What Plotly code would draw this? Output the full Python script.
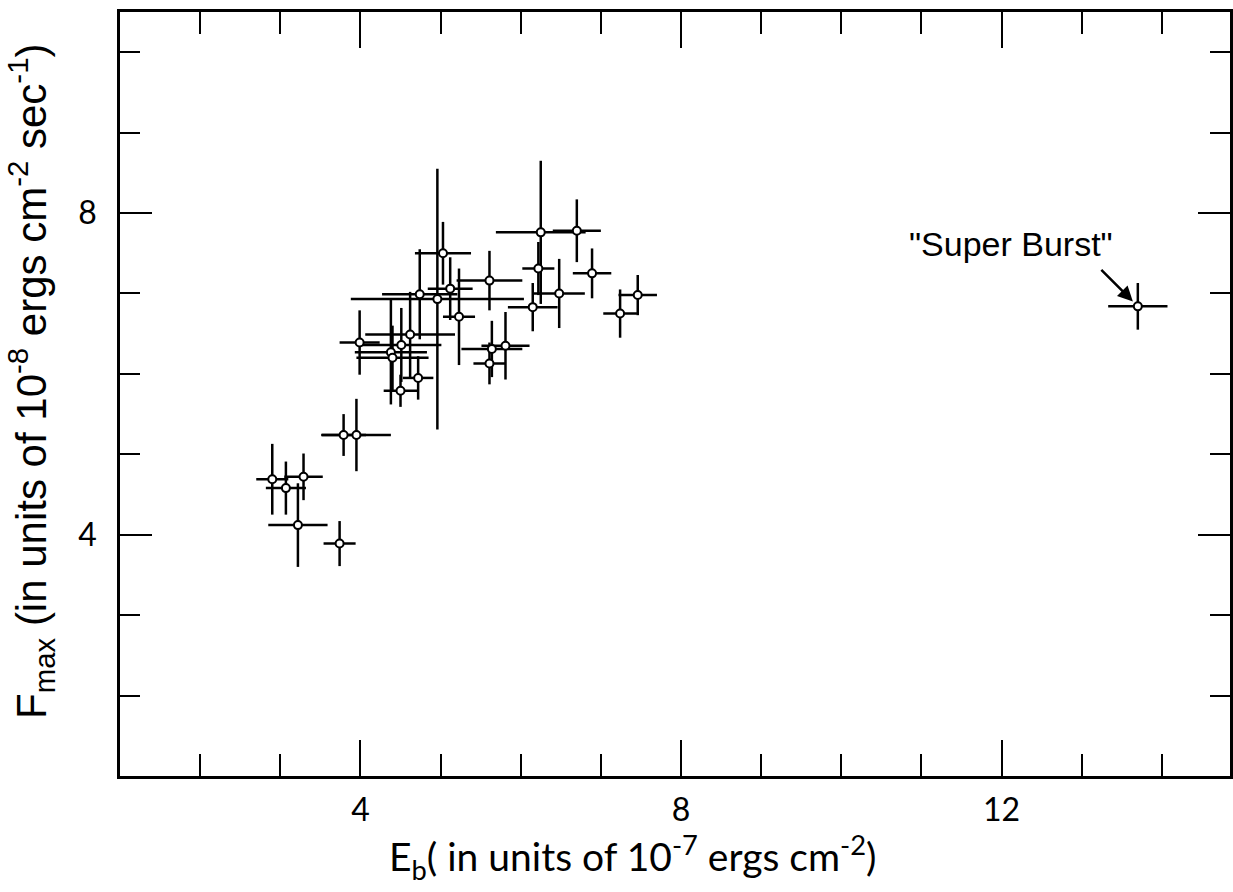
import plotly.graph_objects as go

# Burst fluence E_b (1e-7 ergs cm^-2) and peak flux F_max (1e-8 ergs cm^-2 s^-1)
eb = [2.90, 3.07, 3.29, 3.22, 3.74, 3.79, 3.95, 3.99, 4.38, 4.40, 4.51, 4.62,
      4.50, 4.72, 4.74, 4.96, 5.03, 5.12, 5.23, 5.61, 5.64, 5.61, 5.81, 6.15,
      6.22, 6.25, 6.48, 6.70, 6.89, 7.24, 7.46, 13.70]
fmax = [4.69, 4.58, 4.72, 4.12, 3.89, 5.24, 5.24, 6.39, 6.27, 6.20, 6.36, 6.49,
        5.79, 5.95, 6.99, 6.93, 7.50, 7.06, 6.71, 7.16, 6.31, 6.13, 6.35, 6.83,
        7.31, 7.76, 7.00, 7.78, 7.25, 6.75, 6.98, 6.84]
eb_err = [0.20, 0.25, 0.24, 0.37, 0.20, 0.28, 0.43, 0.25, 0.45, 0.45, 0.50, 0.56,
          0.21, 0.19, 0.47, 1.08, 0.35, 0.28, 0.20, 0.41, 0.38, 0.20, 0.30, 0.31,
          0.20, 0.56, 0.32, 0.30, 0.24, 0.21, 0.24, 0.37]
fmax_err = [0.44, 0.33, 0.29, 0.52, 0.28, 0.26, 0.45, 0.40, 0.65, 0.40, 0.46, 0.53,
            0.20, 0.27, 0.56, 1.62, 0.39, 0.39, 0.60, 0.37, 0.35, 0.26, 0.42, 0.30,
            0.33, 0.89, 0.43, 0.39, 0.31, 0.30, 0.25, 0.29]

x_ticks = [4, 8, 12]
y_ticks = [4, 8]
annot_text = '"Super Burst"'

fig = go.Figure()
fig.add_trace(go.Scatter(
    x=eb, y=fmax, mode="markers",
    marker=dict(symbol="circle", size=8, color="white",
                line=dict(color="black", width=2)),
    error_x=dict(type="data", array=eb_err, color="black", thickness=2.5, width=0),
    error_y=dict(type="data", array=fmax_err, color="black", thickness=2.5, width=0),
    showlegend=False,
))

tickfont = dict(family="Lato, DejaVu Sans, sans-serif", size=32, color="black")

fig.update_xaxes(
    range=[1, 14.85], tickvals=x_ticks, ticktext=[str(v) for v in x_ticks],
    ticks="inside", ticklen=36, tickwidth=2, tickcolor="black",
    minor=dict(dtick=1, tick0=0, ticks="inside", ticklen=22, tickwidth=2, tickcolor="black"),
    showline=True, linewidth=2.5, linecolor="black", mirror="ticks",
    showgrid=False, zeroline=False, tickfont=tickfont, ticklabelstandoff=4,
)
fig.update_yaxes(
    range=[1, 10.5], tickvals=y_ticks, ticktext=[str(v) for v in y_ticks],
    ticks="inside", ticklen=32, tickwidth=2, tickcolor="black",
    minor=dict(dtick=1, tick0=0, ticks="inside", ticklen=20, tickwidth=2, tickcolor="black"),
    showline=True, linewidth=2.5, linecolor="black", mirror="ticks",
    showgrid=False, zeroline=False, tickfont=tickfont, ticklabelstandoff=14,
)

fig.add_annotation(
    x=0.462, y=-0.106, xref="paper", yref="paper", showarrow=False,
    text="E<sub>b</sub>( in units of 10<sup>-7</sup> ergs cm<sup>-2</sup>)",
    font=dict(family="Lato, DejaVu Sans, sans-serif", size=39, color="black"),
    xanchor="center", yanchor="middle",
)
fig.add_annotation(
    x=-0.080, y=0.516, xref="paper", yref="paper", showarrow=False, textangle=-90,
    text="F<sub>max</sub> (in units of 10<sup>-8</sup> ergs cm<sup>-2</sup> sec<sup>-1</sup>)",
    font=dict(family="Liberation Sans, Arial, sans-serif", size=42, color="black"),
    xanchor="center", yanchor="middle",
)
fig.add_annotation(
    x=12.12, y=7.62, xref="x", yref="y", showarrow=False, text=annot_text,
    font=dict(family="Liberation Sans, Arial, sans-serif", size=34, color="black"),
    xanchor="center", yanchor="middle",
)
fig.add_annotation(
    x=eb[-1], y=fmax[-1], xref="x", yref="y", text="", showarrow=True,
    ax=-38, ay=-38, arrowhead=2, arrowsize=1.2, arrowwidth=2.5, arrowcolor="black",
    standoff=7,
)

fig.update_layout(
    width=1233, height=892,
    margin=dict(l=120, r=0, t=12, b=116),
    plot_bgcolor="white", paper_bgcolor="white",
)

fig.write_html("out.html")
